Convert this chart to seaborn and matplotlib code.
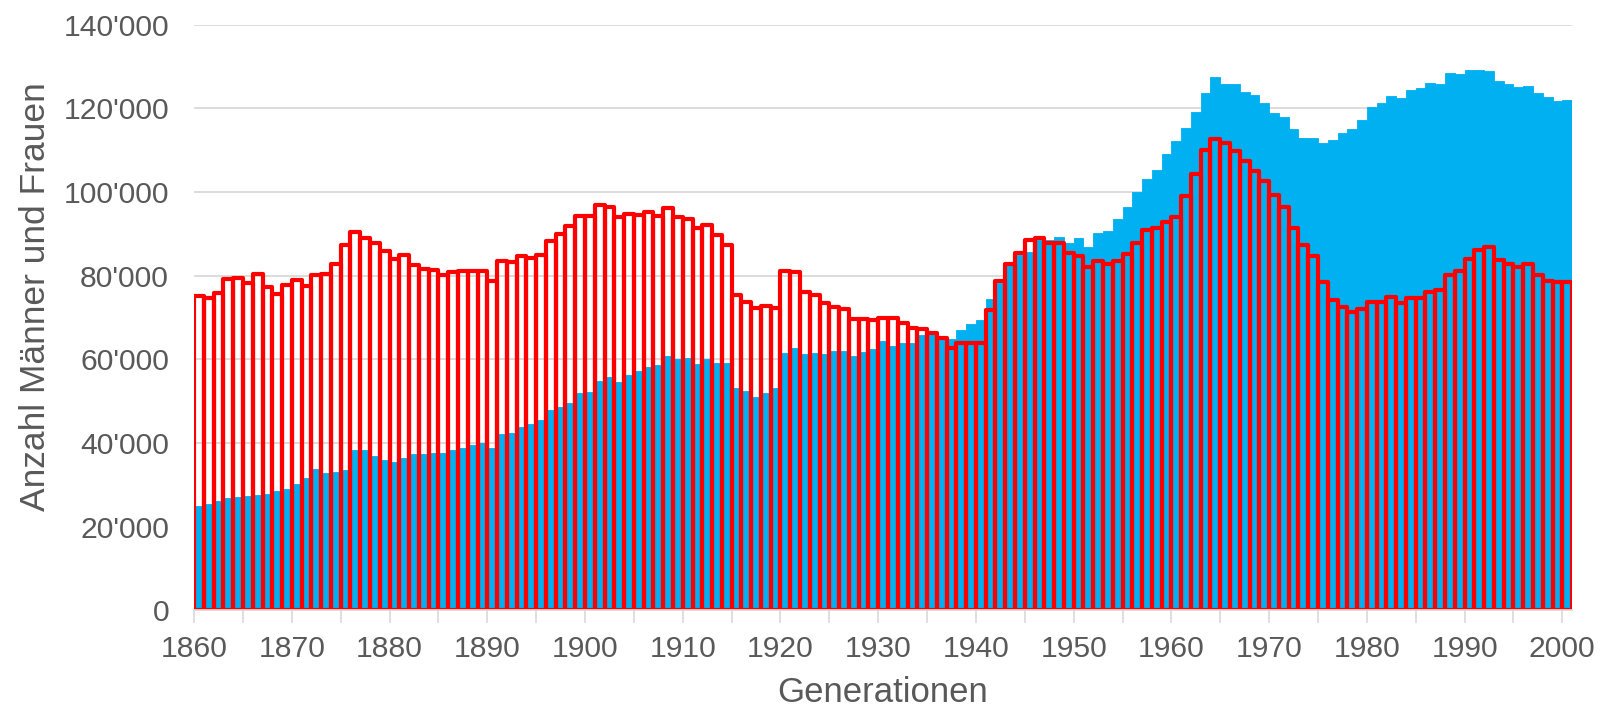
import numpy as np
import pandas as pd
import matplotlib
matplotlib.use("Agg")
import matplotlib.pyplot as plt
from matplotlib.ticker import FuncFormatter, FixedLocator
import seaborn as sns

# Generationen 1860 - 2000
jahre = list(range(1860, 2001))

# rote Umrissbalken (Werte in Tausend)
werte_rot = [
    75.1, 74.7, 75.8, 79.1, 79.4, 78.2, 80.4, 77.2, 75.7, 77.8,
    79.0, 77.6, 80.2, 80.5, 82.8, 87.4, 90.5, 89.1, 87.7, 86.0,
    84.0, 84.9, 82.6, 81.7, 81.4, 80.2, 80.8, 81.2, 81.2, 81.2,
    78.6, 83.6, 83.2, 84.8, 84.2, 85.0, 88.3, 89.9, 91.8, 94.3,
    94.3, 96.9, 96.4, 93.9, 94.7, 94.5, 95.3, 94.3, 96.1, 94.1,
    93.5, 91.3, 92.1, 89.7, 87.3, 75.4, 73.6, 72.3, 72.7, 72.2,
    81.2, 80.8, 76.2, 75.4, 73.4, 72.4, 72.0, 69.7, 69.7, 69.3,
    69.9, 69.9, 68.6, 67.5, 67.2, 66.4, 65.1, 62.7, 63.8, 63.8,
    64.0, 71.8, 78.7, 82.8, 85.5, 88.4, 89.0, 87.7, 87.7, 85.3,
    84.8, 82.0, 83.4, 82.9, 83.6, 85.2, 87.9, 90.9, 91.4, 92.7,
    94.1, 99.1, 104.4, 110.0, 112.7, 111.8, 109.8, 107.4, 105.1, 102.5,
    99.2, 96.3, 91.3, 87.4, 84.6, 78.4, 74.1, 72.6, 71.3, 72.0,
    73.6, 73.7, 74.8, 73.4, 74.6, 74.6, 76.1, 76.5, 80.2, 81.1,
    83.9, 86.2, 86.8, 83.7, 82.9, 82.1, 82.9, 80.2, 78.8, 78.4,
    78.4,
]

# blaue Flaechenbalken (Werte in Tausend)
werte_blau = [
    24.9, 25.5, 26.2, 26.9, 27.0, 27.3, 27.5, 27.9, 28.5, 29.0,
    30.1, 31.7, 33.7, 32.9, 33.0, 33.5, 38.4, 38.4, 36.8, 35.9,
    35.5, 36.5, 37.3, 37.5, 37.7, 37.7, 38.4, 38.7, 39.6, 39.9,
    38.8, 42.2, 42.5, 43.8, 44.6, 45.4, 48.0, 48.6, 49.5, 51.9,
    52.2, 54.9, 55.7, 54.7, 56.2, 57.3, 58.2, 58.6, 60.9, 60.0,
    60.4, 58.8, 60.2, 59.1, 59.1, 53.1, 52.4, 51.0, 51.9, 53.2,
    61.5, 62.7, 61.2, 61.5, 61.2, 61.9, 61.9, 60.9, 61.8, 62.5,
    64.3, 63.3, 64.0, 64.0, 65.7, 66.1, 64.9, 64.9, 67.0, 68.4,
    69.4, 74.5, 78.2, 83.0, 85.0, 85.6, 88.5, 88.5, 89.3, 87.7,
    88.9, 86.9, 90.1, 90.7, 93.5, 96.3, 100.1, 103.1, 105.3, 109.0,
    112.1, 115.3, 119.2, 123.7, 127.4, 125.8, 125.8, 123.9, 123.2, 121.2,
    118.9, 118.0, 115.1, 112.9, 112.9, 111.7, 112.5, 114.0, 115.1, 117.1,
    120.2, 121.3, 122.9, 122.4, 124.4, 124.8, 126.0, 125.7, 128.3, 128.2,
    129.1, 129.1, 128.9, 126.6, 125.8, 125.1, 125.2, 123.7, 122.8, 121.7,
    122.0,
]

df = pd.DataFrame({
    "Jahr": jahre,
    "rot": np.array(werte_rot) * 1000,
    "blau": np.array(werte_blau) * 1000,
})

sns.set_style("white")
plt.rcParams['font.family'] = ['Liberation Sans', 'DejaVu Sans']

grau_text = "#595959"
grau_linie = "#d9d9d9"

fig = plt.figure(figsize=(16.03, 7.09), dpi=100)
ax = fig.add_axes([0.1211, 0.139, 0.8596, 0.8264])

sns.barplot(data=df, x="Jahr", y="blau", color="#00B0F0", saturation=1,
            width=1.0, errorbar=None, edgecolor="#00B0F0", linewidth=0.6, ax=ax)
sns.barplot(data=df, x="Jahr", y="rot", color="#FF0000", saturation=1,
            width=1.0, errorbar=None, fill=False, linewidth=3.0, ax=ax)

# runde Ecken wie im Original
for p in ax.patches:
    p.set_joinstyle("round")

ax.set_xlim(-0.5, len(jahre) - 0.5)
ax.set_ylim(0, 140000)

# Achsen
pos_major = [i - 0.5 for i, j in enumerate(jahre) if j % 10 == 0]
lab_major = [str(j) for j in jahre if j % 10 == 0]
pos_minor = [i - 0.5 for i, j in enumerate(jahre) if j % 5 == 0 and j % 10 != 0]
ax.xaxis.set_major_locator(FixedLocator(pos_major))
ax.set_xticklabels(lab_major)
ax.xaxis.set_minor_locator(FixedLocator(pos_minor))
ax.tick_params(axis="x", which="both", length=9, width=1.2, color=grau_linie,
               labelsize=21.7, labelcolor=grau_text, pad=9, direction="out", bottom=True)

ax.set_yticks(range(0, 140001, 20000))
ax.yaxis.set_major_formatter(FuncFormatter(lambda v, p: f"{v:,.0f}".replace(",", "'")))
ax.tick_params(axis="y", length=0, labelsize=21.7, labelcolor=grau_text, pad=18)

ax.grid(axis="y", color=grau_linie, linewidth=1.3)
ax.grid(axis="x", visible=False)
ax.set_axisbelow(True)

for s in ["top", "right", "left"]:
    ax.spines[s].set_visible(False)
ax.spines["bottom"].set_color(grau_linie)
ax.spines["bottom"].set_linewidth(1.3)

ax.set_xlabel("Generationen", fontsize=25, color=grau_text, labelpad=9)
ax.set_ylabel("Anzahl Männer und Frauen", fontsize=25.5, color=grau_text)
ax.yaxis.set_label_coords(-0.103, 0.535)

fig.savefig("out.png", dpi=100)
